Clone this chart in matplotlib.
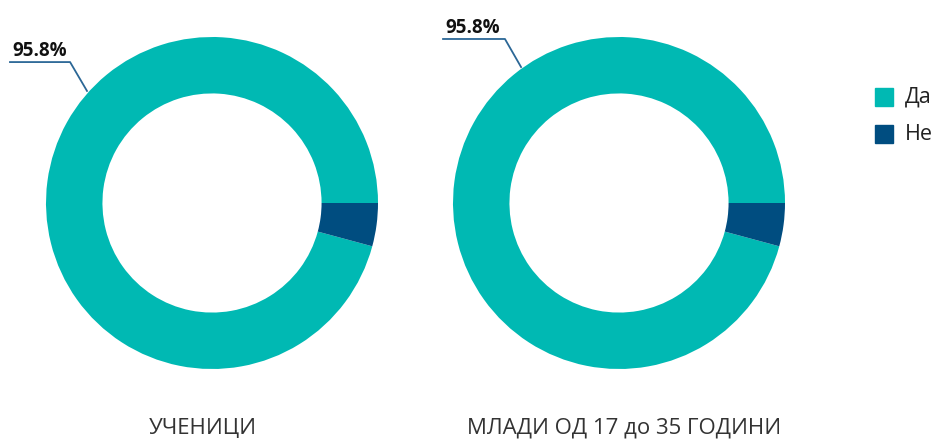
import matplotlib
matplotlib.use("Agg")
import matplotlib.pyplot as plt
import numpy as np

plt.rcParams['font.family'] = ['Open Sans', 'DejaVu Sans']

categories = ["Да", "Не"]
groups = ["УЧЕНИЦИ", "МЛАДИ ОД 17 до 35 ГОДИНИ"]
values = [[95.8, 4.2], [95.8, 4.2]]
colors = ["#00b9b3", "#004d80"]
line_color = "#2b6796"

W, H = 937, 441
fig = plt.figure(figsize=(W / 100, H / 100), dpi=100)

# panel geometry in pixels (center x, center y from top, radius)
panels = [(212, 203, 166), (619, 203, 166)]
# label leader line geometry (relative to radius): anchor, elbow, end, text
leaders = [
    dict(anchor=(-0.753, 0.675), elbow=(-0.855, 0.849), end=(-1.217, 0.849), text=(-1.200, 0.885)),
    dict(anchor=(-0.590, 0.819), elbow=(-0.687, 0.988), end=(-1.060, 0.988), text=(-1.048, 1.026)),
]
title_x = [203, 624]

for i, (cx, cy, r) in enumerate(panels):
    ax = fig.add_axes([(cx - r) / W, (H - cy - r) / H, 2 * r / W, 2 * r / H])
    ax.pie(values[i], colors=colors, startangle=0, counterclock=True, radius=1,
           wedgeprops=dict(width=0.34, linewidth=0))
    ax.set_xlim(-1, 1)
    ax.set_ylim(-1, 1)
    ax.set_aspect('equal')
    ax.axis('off')
    ld = leaders[i]
    xs = [ld['anchor'][0], ld['elbow'][0], ld['end'][0]]
    ys = [ld['anchor'][1], ld['elbow'][1], ld['end'][1]]
    ax.plot(xs, ys, color=line_color, lw=1.3, clip_on=False)
    ax.text(ld['text'][0], ld['text'][1], f"{values[i][0]:.1f}%", fontsize=13.5,
            fontweight='bold', color='#111111', ha='left', va='baseline', clip_on=False)
    fig.text(title_x[i] / W, (H - 434) / H, groups[i], fontsize=16, color='#333333',
             ha='center', va='baseline')

# legend
leg_y = [97, 134]
for j, cat in enumerate(categories):
    y = leg_y[j]
    fig.patches.append(plt.Rectangle((875 / W, (H - y - 9) / H), 18 / W, 18 / H,
                                     transform=fig.transFigure, color=colors[j]))
    fig.text(905 / W, (H - y) / H, cat, fontsize=15.5, color='#222222', ha='left', va='center')

fig.savefig("out.png", dpi=100)
